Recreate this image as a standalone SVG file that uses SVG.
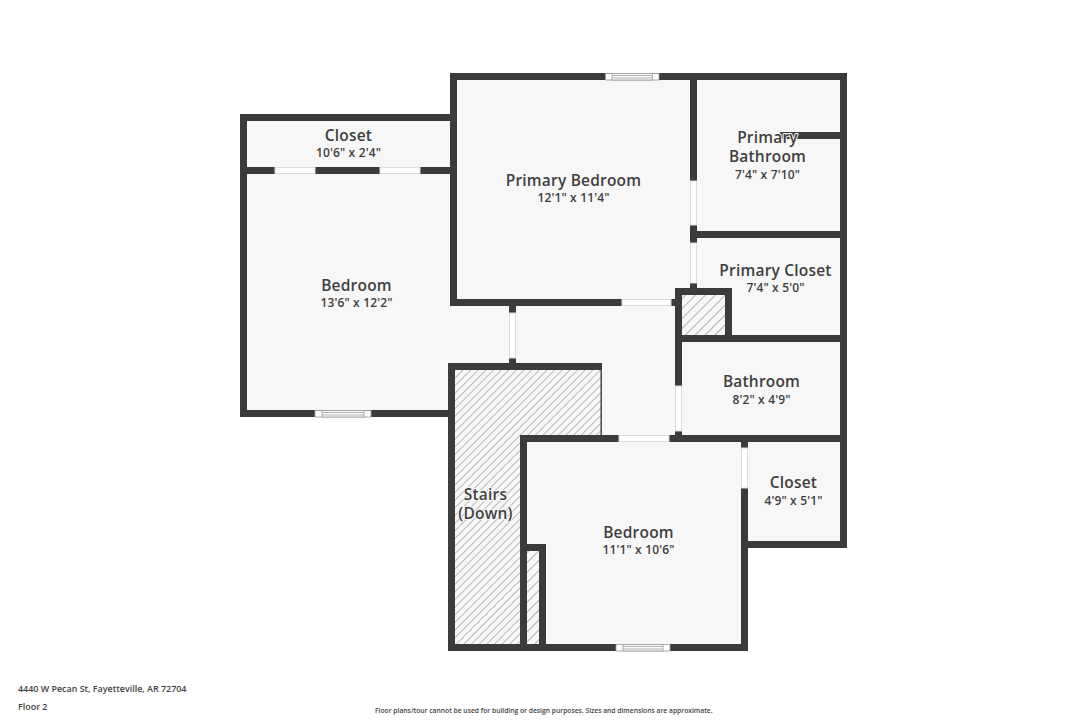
<svg xmlns="http://www.w3.org/2000/svg" width="1086" height="724" viewBox="0 0 1086 724">
<style>
.room{fill:#f7f7f7}
.w{fill:#3b3b3b}
.d{fill:#fff;stroke:#dcdcdc;stroke-width:1}
.win{fill:#fff;stroke:#9a9a9a;stroke-width:.8}
.n{font-family:"Open Sans","Noto Sans",sans-serif;font-weight:600;font-size:15.5px;fill:#3f3f3f;text-anchor:middle;letter-spacing:.2px}
.s{font-family:"Open Sans","Noto Sans",sans-serif;font-weight:600;font-size:12px;fill:#3f3f3f;text-anchor:middle;letter-spacing:.15px}
.h{paint-order:stroke;stroke:#f7f7f7;stroke-width:2px;stroke-linejoin:round}
.f{font-family:"Open Sans","Noto Sans",sans-serif;font-weight:600;fill:#3f3f3f}
</style>
<defs>
<pattern id="hatch" width="5.4" height="5.4" patternUnits="userSpaceOnUse" patternTransform="rotate(45)">
<rect width="5.4" height="5.4" fill="#f7f7f7"/>
<rect x="0" width=".9" height="5.4" fill="#b4b4b4"/>
</pattern>
<pattern id="hatch2" width="7" height="7" patternUnits="userSpaceOnUse" patternTransform="rotate(45)">
<rect width="7" height="7" fill="#f7f7f7"/>
<rect x="0" width=".9" height="7" fill="#a8a8a8"/>
</pattern>
</defs>
<rect width="1086" height="724" fill="#fff"/>
<g id="floors">
<path class="room" d="M240 114H450V73H847V548H748V651H448V417H240Z"/>
<rect x="455" y="369" width="146" height="66" fill="url(#hatch)"/>
<rect x="455" y="369" width="66" height="280" fill="url(#hatch)"/>
<rect x="526" y="550" width="14" height="96" fill="url(#hatch2)"/>
<rect x="681" y="295" width="44" height="41" fill="url(#hatch2)"/>
</g>
<g id="walls">
<rect class="w" x="240" y="114" width="7" height="303"/>
<rect class="w" x="240" y="114" width="217" height="7"/>
<rect class="w" x="240" y="410" width="208" height="7"/>
<rect class="w" x="240" y="167" width="35" height="7"/>
<rect class="w" x="315" y="167" width="65" height="7"/>
<rect class="w" x="420" y="167" width="37" height="7"/>
<rect class="w" x="450" y="73" width="7" height="233"/>
<rect class="w" x="450" y="73" width="397" height="7"/>
<rect class="w" x="840" y="73" width="7" height="475"/>
<rect class="w" x="690" y="73" width="7" height="108"/>
<rect class="w" x="690" y="225" width="7" height="18"/>
<rect class="w" x="690" y="283" width="7" height="6"/>
<rect class="w" x="780" y="132" width="67" height="7"/>
<rect class="w" x="690" y="231" width="157" height="7"/>
<rect class="w" x="450" y="299" width="172" height="7"/>
<rect class="w" x="671" y="299" width="6" height="7"/>
<rect class="w" x="675" y="288" width="7" height="98"/>
<rect class="w" x="675" y="288" width="56" height="7"/>
<rect class="w" x="725" y="288" width="7" height="54"/>
<rect class="w" x="675" y="335" width="172" height="7"/>
<rect class="w" x="675" y="431" width="7" height="5"/>
<rect class="w" x="669" y="435" width="178" height="7"/>
<rect class="w" x="520" y="435" width="99" height="7"/>
<rect class="w" x="741" y="435" width="7" height="13"/>
<rect class="w" x="741" y="488" width="7" height="163"/>
<rect class="w" x="741" y="541" width="106" height="7"/>
<rect class="w" x="509" y="306" width="7" height="7"/>
<rect class="w" x="509" y="358" width="7" height="6"/>
<rect class="w" x="448" y="363" width="154" height="7"/>
<rect class="w" x="448" y="363" width="7" height="288"/>
<rect x="600.5" y="369" width="1.4" height="67" fill="#3b3b3b"/>
<rect class="w" x="520" y="435" width="7" height="216"/>
<rect class="w" x="520" y="544" width="26" height="7"/>
<rect class="w" x="539" y="544" width="7" height="107"/>
<rect class="w" x="448" y="644" width="168" height="7"/>
<rect class="w" x="670" y="644" width="78" height="7"/>
</g>
<g id="doors">
<rect class="d" x="275" y="167.5" width="40" height="6"/>
<rect class="d" x="380" y="167.5" width="40" height="6"/>
<rect class="d" x="690.5" y="181" width="6" height="44"/>
<rect class="d" x="690.5" y="243" width="6" height="40"/>
<rect class="d" x="622" y="299.5" width="49" height="6"/>
<rect class="d" x="509.5" y="313" width="6" height="45"/>
<rect class="d" x="675.5" y="386" width="6" height="45"/>
<rect class="d" x="619" y="435.5" width="50" height="6"/>
<rect class="d" x="741.5" y="448" width="6" height="40"/>
</g>
<g id="windows">
<rect class="win" x="605.5" y="73.5" width="53.5" height="6.5"/><rect class="win" x="612" y="73.5" width="40.5" height="6.5"/><path d="M612 75.5H652.5M612 78H652.5" stroke="#9a9a9a" stroke-width=".8"/>
<rect class="win" x="315" y="410.5" width="56" height="6.5"/><rect class="win" x="322" y="410.5" width="42" height="6.5"/><path d="M322 412.5H364M322 415H364" stroke="#9a9a9a" stroke-width=".8"/>
<rect class="win" x="616" y="644.5" width="54" height="6.5"/><rect class="win" x="623" y="644.5" width="40" height="6.5"/><path d="M623 646.5H663M623 649H663" stroke="#9a9a9a" stroke-width=".8"/>
</g>
<g id="labels">
<text class="n" x="348.5" y="141">Closet</text><text class="s" x="348.5" y="157">10'6" x 2'4"</text>
<text class="n" x="573.5" y="186">Primary Bedroom</text><text class="s" x="573.5" y="202">12'1" x 11'4"</text>
<text class="n h" x="767.5" y="143">Primary</text><text class="n" x="767.5" y="162">Bathroom</text><text class="s" x="767.5" y="179">7'4" x 7'10"</text>
<text class="n" x="775.5" y="276">Primary Closet</text><text class="s" x="775.5" y="292">7'4" x 5'0"</text>
<text class="n" x="356.5" y="291">Bedroom</text><text class="s" x="356.5" y="307">13'6" x 12'2"</text>
<text class="n" x="761.5" y="387">Bathroom</text><text class="s" x="761.5" y="404">8'2" x 4'9"</text>
<text class="n" x="793.5" y="488">Closet</text><text class="s" x="793.5" y="505">4'9" x 5'1"</text>
<text class="n h" x="485.5" y="500">Stairs</text><text class="n h" x="485.5" y="519">(Down)</text>
<text class="n" x="638.5" y="538">Bedroom</text><text class="s" x="638.5" y="554">11'1" x 10'6"</text>
<text class="f" x="18" y="692" font-size="8.93">4440 W Pecan St, Fayetteville, AR 72704</text>
<text class="f" x="18" y="710" font-size="8.93">Floor 2</text>
<text class="f" x="375" y="713" font-size="6.74">Floor plans/tour cannot be used for building or design purposes. Sizes and dimensions are approximate.</text>
</g>
</svg>
